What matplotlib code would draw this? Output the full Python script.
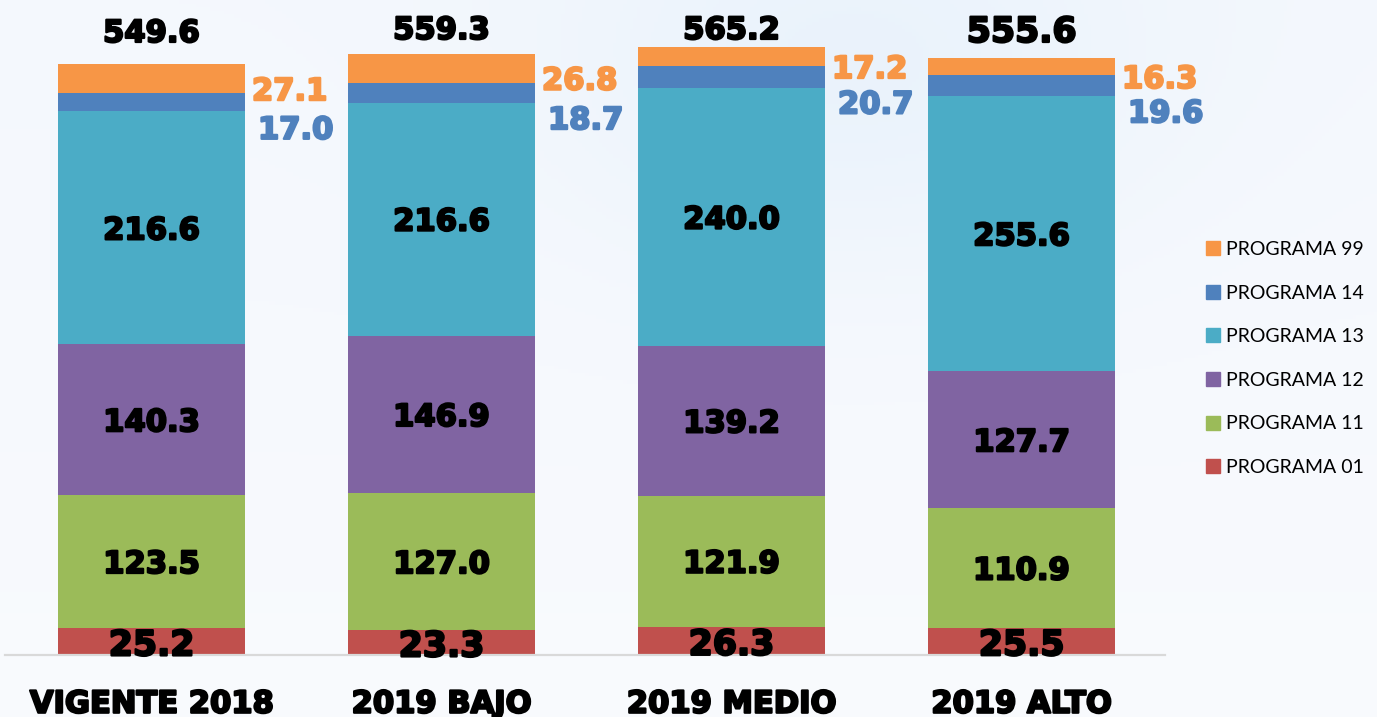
import numpy as np
import matplotlib
matplotlib.use('Agg')
import matplotlib.pyplot as plt
import matplotlib.patheffects as pe
from matplotlib.patches import Patch

# datos del gráfico
categorias = ['VIGENTE 2018', '2019 BAJO', '2019 MEDIO', '2019 ALTO']
prog01 = [25.2, 23.3, 26.3, 25.5]
prog11 = [123.5, 127.0, 121.9, 110.9]
prog12 = [140.3, 146.9, 139.2, 127.7]
prog13 = [216.6, 216.6, 240.0, 255.6]
prog14 = [17.0, 18.7, 20.7, 19.6]
prog99 = [27.1, 26.8, 17.2, 16.3]
totales = [549.6, 559.3, 565.2, 555.6]

series = [prog01, prog11, prog12, prog13, prog14, prog99]
nombres = ['PROGRAMA 01', 'PROGRAMA 11', 'PROGRAMA 12',
           'PROGRAMA 13', 'PROGRAMA 14', 'PROGRAMA 99']
colores = ['#C0504D', '#9BBB59', '#8064A2', '#4BACC6', '#4F81BD', '#F79646']

plt.rcParams['font.family'] = ['DejaVu Sans']


def grueso(color):
    # engrosar el texto para parecerse a Arial Black
    return [pe.withStroke(linewidth=1.6, foreground=color)]


fig = plt.figure(figsize=(13.77, 7.17), dpi=100)

# fondo suave azulado
bg = fig.add_axes([0, 0, 1, 1], zorder=-10)
yy, xx = np.mgrid[0:1:200j, 0:1:400j]
grad = 0.35 * np.exp(-((xx - 0.62) ** 2 / 0.05 + (yy - 0.1) ** 2 / 0.08)) \
    + 0.15 * (1 - yy)
c0 = np.array([0.975, 0.982, 0.995])
c1 = np.array([0.86, 0.92, 0.98])
img = c0[None, None, :] * (1 - grad[..., None]) + c1[None, None, :] * grad[..., None]
bg.imshow(img, aspect='auto', extent=[0, 1, 1, 0])
bg.set_axis_off()

ax = fig.add_axes([5 / 1377, 62 / 717, 1160 / 1377, 645 / 717])
ax.patch.set_alpha(0)

x = np.arange(len(categorias))
ancho = 0.645
base = np.zeros(len(categorias))
for vals, nom, col in zip(series, nombres, colores):
    ax.bar(x, vals, ancho, bottom=base, color=col, label=nom, linewidth=0)
    base = base + np.array(vals)

# etiquetas dentro de las barras
abajo = np.zeros(len(categorias))
for k, vals in enumerate(series):
    for i, v in enumerate(vals):
        centro = abajo[i] + v / 2
        if k == 0:
            ax.annotate(f'{v:.1f}', (x[i], centro), xytext=(0, -4),
                        textcoords='offset pixels', ha='center', va='center',
                        fontsize=25, fontweight='bold', color='black',
                        zorder=5, path_effects=grueso('black'))
        elif k in (1, 2, 3):
            ax.annotate(f'{v:.1f}', (x[i], centro), xytext=(0, -3),
                        textcoords='offset pixels', ha='center', va='center',
                        fontsize=22, fontweight='bold', color='black',
                        path_effects=grueso('black'))
        elif k == 4:
            ax.annotate(f'{v:.1f}', (x[i] + ancho / 2, centro),
                        xytext=(13, -28), textcoords='offset pixels',
                        ha='left', va='center', fontsize=22,
                        fontweight='bold', color='#4F81BD',
                        path_effects=grueso('#4F81BD'))
        else:
            ax.annotate(f'{v:.1f}', (x[i] + ancho / 2, centro),
                        xytext=(7, -13), textcoords='offset pixels',
                        ha='left', va='center', fontsize=22,
                        fontweight='bold', color='#F79646',
                        path_effects=grueso('#F79646'))
    abajo = abajo + np.array(vals)

# totales arriba (en una fila casi fija bajo el borde superior)
tam_tot = [22, 22, 22, 25]
baja_tot = [-32, -29, -29, -32]
for i, t in enumerate(totales):
    ax.annotate(f'{t:.1f}', (x[i], 1), xycoords=('data', 'axes fraction'),
                xytext=(0, baja_tot[i]), textcoords='offset pixels',
                ha='center', va='baseline',
                fontsize=tam_tot[i], fontweight='bold', color='black',
                annotation_clip=False, path_effects=grueso('black'))

ax.set_xlim(-0.505, 3.495)
ax.set_ylim(0, 600)
ax.set_yticks([])
ax.set_xticks(x)
ax.set_xticklabels(categorias, fontsize=22, fontweight='bold',
                   path_effects=grueso('black'))
ax.tick_params(axis='x', length=0, pad=25)
for s in ['top', 'left', 'right']:
    ax.spines[s].set_visible(False)
ax.spines['bottom'].set_color('#D9D9D9')
ax.spines['bottom'].set_linewidth(1.6)

handles = [Patch(color=c) for c in colores][::-1]
fig.legend(handles, nombres[::-1], loc='center left',
           bbox_to_anchor=(1206 / 1377, 0.5), frameon=False,
           prop={'family': 'Lato', 'size': 14}, handlelength=0.72,
           handleheight=0.72, handletextpad=0.3, labelspacing=1.37,
           borderpad=0, borderaxespad=0)

fig.savefig('out.png', dpi=100)
